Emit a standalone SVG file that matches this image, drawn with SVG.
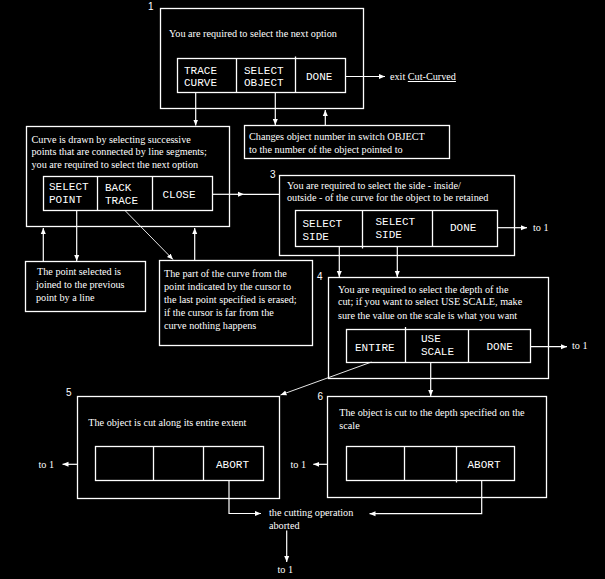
<svg xmlns="http://www.w3.org/2000/svg" width="605" height="579" viewBox="0 0 605 579">
<style>
.bg{fill:#000}
.box{fill:none;stroke:#fff;stroke-width:1.3}
.ln{fill:none;stroke:#fff;stroke-width:1.2}
.thin{fill:none;stroke:#fff;stroke-width:0.9}
.t{font-family:"Liberation Serif","Times New Roman",serif;font-size:10.2px;fill:#fff}
.b{font-family:"Liberation Mono","Courier New",monospace;font-size:11px;fill:#fff}
.n{font-family:"Liberation Sans",Arial,sans-serif;font-size:10px;fill:#fff}
</style>
<defs>
<marker id="ah" viewBox="0 0 6 6" refX="6" refY="3" markerWidth="6" markerHeight="6" markerUnits="userSpaceOnUse" orient="auto">
<path d="M0,0.5 L6,3 L0,5.5 z" fill="#fff"/>
</marker>
</defs>
<rect class="bg" x="0" y="0" width="605" height="579"/>

<g id="node1">
<text class="n" x="148" y="10">1</text>
<rect class="box" x="160.5" y="8.5" width="203" height="100"/>
<text class="t" x="169" y="36.5">You are required to select the next option</text>
<rect class="box" x="177.5" y="58.5" width="168" height="34"/>
<line class="box" x1="236.5" y1="58.5" x2="236.5" y2="92.5"/>
<line class="box" x1="295.5" y1="56.5" x2="295.5" y2="92.5"/>
<text class="b" x="184" y="73.5">TRACE</text>
<text class="b" x="184" y="86">CURVE</text>
<text class="b" x="244" y="73.5">SELECT</text>
<text class="b" x="244" y="86">OBJECT</text>
<text class="b" x="306" y="80">DONE</text>
</g>

<g id="exit1">
<text class="t" x="390" y="80">exit <tspan text-decoration="underline">Cut-Curved</tspan></text>
</g>

<g id="node_changes">
<rect class="box" x="244.5" y="125.5" width="205" height="33"/>
<text class="t" x="249" y="140">Changes object number in switch OBJECT</text>
<text class="t" x="249" y="153">to the number of the object pointed to</text>
</g>

<g id="node2">
<rect class="box" x="26.5" y="126.5" width="203" height="100"/>
<text class="t" x="31.5" y="142.7">Curve is drawn by selecting successive</text>
<text class="t" x="31.5" y="155.3">points that are connected by line segments;</text>
<text class="t" x="31.5" y="168.3">you are required to select the next option</text>
<rect class="box" x="43.5" y="176.5" width="169" height="34"/>
<line class="box" x1="97.5" y1="176.5" x2="97.5" y2="210.5"/>
<line class="box" x1="152.5" y1="176.5" x2="152.5" y2="210.5"/>
<text class="b" x="49" y="190">SELECT</text>
<text class="b" x="49" y="202.5">POINT</text>
<text class="b" x="105" y="191">BACK</text>
<text class="b" x="105" y="204">TRACE</text>
<text class="b" x="162.5" y="197.5">CLOSE</text>
</g>

<g id="note1">
<rect class="box" x="25.5" y="261.5" width="120" height="50"/>
<text class="t" x="37" y="275">The point selected is</text>
<text class="t" x="36" y="287.7">joined to the previous</text>
<text class="t" x="36" y="300.7">point by a line</text>
</g>

<g id="note2">
<rect class="box" x="159.5" y="260.5" width="153" height="85"/>
<text class="t" x="164" y="277">The part of the curve from the</text>
<text class="t" x="164" y="290">point indicated by the cursor to</text>
<text class="t" x="164" y="303">the last point specified is erased;</text>
<text class="t" x="164" y="316">if the cursor is far from the</text>
<text class="t" x="164" y="329">curve nothing happens</text>
</g>

<g id="node3">
<text class="n" x="270" y="178">3</text>
<rect class="box" x="279.5" y="175.5" width="235" height="80"/>
<text class="t" x="287" y="189">You are required to select the side - inside/</text>
<text class="t" x="287" y="200.8">outside - of the curve for the object to be retained</text>
<rect class="box" x="295.5" y="210.5" width="202" height="36"/>
<line class="box" x1="362.5" y1="210.5" x2="362.5" y2="248.5"/>
<line class="box" x1="432.5" y1="210.5" x2="432.5" y2="246.5"/>
<text class="b" x="302.5" y="227">SELECT</text>
<text class="b" x="302.5" y="240">SIDE</text>
<text class="b" x="375.5" y="225">SELECT</text>
<text class="b" x="375.5" y="238">SIDE</text>
<text class="b" x="450" y="231">DONE</text>
<text class="t" x="533" y="231">to 1</text>
</g>

<g id="node4">
<text class="n" x="317" y="280">4</text>
<rect class="box" x="328.5" y="277.5" width="220" height="101"/>
<text class="t" x="338" y="292.7">You are required to select the depth of  the</text>
<text class="t" x="338" y="305.3">cut; if you want to select USE SCALE, make</text>
<text class="t" x="338" y="318.7">sure the value on the scale is what you want</text>
<rect class="box" x="346.5" y="329.5" width="184" height="33"/>
<line class="box" x1="405.5" y1="327" x2="405.5" y2="362.5"/>
<line class="box" x1="468.5" y1="329.5" x2="468.5" y2="362.5"/>
<text class="b" x="355" y="351">ENTIRE</text>
<text class="b" x="421" y="342">USE</text>
<text class="b" x="421" y="355.3">SCALE</text>
<text class="b" x="486.5" y="349.5">DONE</text>
<text class="t" x="572" y="348.5">to 1</text>
</g>

<g id="node5">
<text class="n" x="66" y="395.5">5</text>
<rect class="box" x="77.5" y="396.5" width="202" height="102"/>
<text class="t" x="88.3" y="425.5">The object is cut along its entire extent</text>
<rect class="box" x="95.5" y="446.5" width="168" height="34"/>
<line class="box" x1="153.5" y1="446.5" x2="153.5" y2="480.5"/>
<line class="box" x1="203.5" y1="446.5" x2="203.5" y2="480.5"/>
<text class="b" x="216" y="468">ABORT</text>
<text class="t" x="38.5" y="467.5">to 1</text>
</g>

<g id="node6">
<text class="n" x="317.5" y="399.5">6</text>
<rect class="box" x="327.5" y="396.5" width="219" height="101"/>
<text class="t" x="339.3" y="416.3">The object is cut to the depth specified on the</text>
<text class="t" x="339.3" y="428.7">scale</text>
<rect class="box" x="346.5" y="446.5" width="168" height="34"/>
<line class="box" x1="404.5" y1="446.5" x2="404.5" y2="480.5"/>
<line class="box" x1="456.5" y1="446.5" x2="456.5" y2="482.5"/>
<text class="b" x="467.5" y="468">ABORT</text>
<text class="t" x="290.5" y="467.5">to 1</text>
</g>

<g id="aborted">
<text class="t" x="269" y="516.3">the cutting operation</text>
<text class="t" x="269" y="528.7">aborted</text>
<text class="t" x="277.5" y="573">to 1</text>
</g>

<g id="connectors">
<line class="ln" x1="345.5" y1="76.5" x2="385" y2="76.5" marker-end="url(#ah)"/>
<line class="ln" x1="195.7" y1="92.5" x2="195.7" y2="125.5" marker-end="url(#ah)"/>
<line class="ln" x1="275.3" y1="92.5" x2="275.3" y2="125" marker-end="url(#ah)"/>
<line class="ln" x1="325.3" y1="125.5" x2="325.3" y2="110" marker-end="url(#ah)"/>
<line class="ln" x1="212" y1="194.3" x2="244" y2="194.3" marker-end="url(#ah)"/>
<line class="ln" x1="244" y1="194.3" x2="279.5" y2="194.3"/>
<line class="ln" x1="43.3" y1="261.5" x2="43.3" y2="228" marker-end="url(#ah)"/>
<line class="ln" x1="76.7" y1="210.5" x2="76.7" y2="261" marker-end="url(#ah)"/>
<line class="thin" x1="125" y1="210.5" x2="173" y2="259.5" marker-end="url(#ah)"/>
<line class="ln" x1="194.7" y1="260.5" x2="194.7" y2="228" marker-end="url(#ah)"/>
<line class="ln" x1="497.5" y1="227.7" x2="527" y2="227.7" marker-end="url(#ah)"/>
<line class="ln" x1="339.3" y1="246.5" x2="339.3" y2="277" marker-end="url(#ah)"/>
<line class="ln" x1="397.3" y1="246.5" x2="397.3" y2="277" marker-end="url(#ah)"/>
<line class="ln" x1="530.5" y1="346.7" x2="567" y2="346.7" marker-end="url(#ah)"/>
<line class="thin" x1="371.5" y1="362" x2="280.5" y2="395" marker-end="url(#ah)"/>
<line class="ln" x1="430.7" y1="362.5" x2="430.7" y2="396" marker-end="url(#ah)"/>
<line class="ln" x1="77.5" y1="464.3" x2="62.5" y2="464.3" marker-end="url(#ah)"/>
<line class="ln" x1="327.5" y1="464.3" x2="313.3" y2="464.3" marker-end="url(#ah)"/>
<polyline class="ln" points="229,480.5 229,513.5 261,513.5" marker-end="url(#ah)"/>
<polyline class="ln" points="481.7,480.5 481.7,513.7 369.5,513.7" marker-end="url(#ah)"/>
<line class="ln" x1="286.7" y1="530.5" x2="286.7" y2="562" marker-end="url(#ah)"/>
</g>
</svg>
